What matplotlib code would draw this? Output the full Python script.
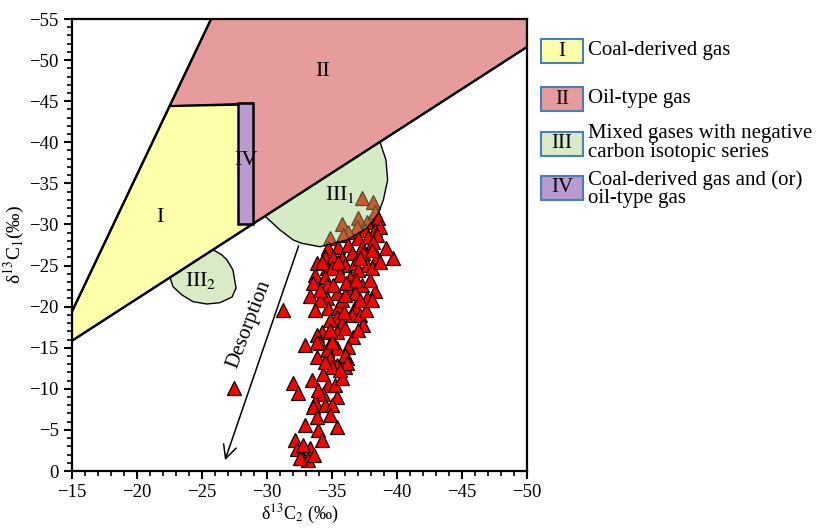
import numpy as np
import matplotlib
matplotlib.use('Agg')
import matplotlib.pyplot as plt
from matplotlib.patches import Polygon, Rectangle
from matplotlib.ticker import MultipleLocator

plt.rcParams['font.family'] = ['Liberation Serif', 'DejaVu Serif']
plt.rcParams['mathtext.fontset'] = 'stix'

# measured samples: d13C2 (x) and d13C1 (y), permil
d13C2 = [-37.33, -38.18, -35.79, -37.02, -37.67, -38.31, -38.56, -36.90, -36.21, -34.85,
         -35.87, -37.54, -38.31, -38.69, -37.02, -37.79, -38.44, -34.72, -35.48, -36.25,
         -38.18, -37.28, -39.72, -33.82, -34.46, -35.10, -35.75, -36.52, -37.41, -38.44,
         -38.05, -36.00, -36.77, -37.67, -35.36, -34.59, -34.98, -37.02, -35.62, -33.69,
         -34.46, -36.38, -37.28, -38.31, -33.56, -34.59, -36.38, -33.31, -35.36, -36.77,
         -37.67, -34.59, -34.72, -35.48, -36.77, -35.36, -36.52, -37.15, -34.85, -35.75,
         -37.41, -34.21, -35.36, -36.00, -36.64, -33.82, -34.98, -32.92, -34.08, -36.25,
         -35.36, -34.59, -33.82, -34.85, -36.13, -35.36, -36.00, -31.98, -32.41, -33.48,
         -34.28, -34.72, -35.23, -35.75, -34.33, -35.36, -33.69, -33.56, -34.46, -34.98,
         -33.82, -32.92, -33.95, -35.36, -32.15, -32.28, -33.31, -32.67, -33.18, -31.25,
         -27.46, -38.08, -38.69, -36.08, -35.77, -37.62, -35.92, -34.08, -39.15,
         -33.82, -34.98, -36.00, -36.13, -34.98, -34.23, -35.46, -37.15, -37.92, -36.85,
         -35.08, -34.08, -36.00, -37.15, -38.08, -33.69, -34.85, -37.00, -34.46, -35.62,
         -33.95, -34.85, -34.23, -32.77, -33.62, -32.54]
d13C1 = [-33.18, -32.77, -30.02, -30.75, -30.34, -31.55, -30.75, -29.73, -29.12, -28.32,
         -28.72, -29.33, -29.33, -29.73, -28.32, -28.51, -28.72, -27.10, -27.29, -27.50,
         -27.90, -27.29, -25.88, -25.27, -26.08, -26.08, -25.88, -26.49, -26.49, -26.08,
         -26.89, -25.07, -25.27, -25.07, -24.86, -24.67, -24.67, -24.46, -23.85, -23.85,
         -23.64, -23.45, -22.63, -21.90, -22.84, -22.63, -22.43, -21.33, -21.62, -21.62,
         -21.02, -21.02, -19.80, -19.80, -19.99, -18.78, -18.98, -18.98, -18.37, -17.97,
         -17.77, -16.95, -16.95, -17.36, -16.34, -16.55, -15.94, -15.33, -15.54, -15.13,
         -14.93, -14.72, -13.91, -13.71, -13.71, -12.90, -12.69, -10.67, -9.45, -11.07,
         -11.77, -10.46, -10.46, -11.28, -9.33, -9.04, -8.43, -7.82, -8.03, -8.03,
         -6.61, -5.60, -4.99, -5.39, -3.77, -2.68, -2.76, -1.55, -1.34, -19.59,
         -10.10, -24.70, -25.43, -22.88, -20.81, -19.59, -19.35, -20.81, -27.14,
         -15.73, -15.73, -14.12, -13.10, -12.69, -25.43, -25.43, -25.92, -23.24, -23.24,
         -22.63, -22.02, -21.42, -20.81, -20.81, -19.59, -17.16, -17.16, -13.26, -12.29,
         -9.86, -6.81, -3.77, -3.16, -1.95, -1.60]

# genetic zones (x, y) vertices
zone_I = [(-15, -15.85), (-15, -19.4), (-22.5, -44.4), (-28.9, -44.6), (-28.9, -30.05)]
zone_II = [(-25.7, -55), (-50, -55), (-50, -51.6), (-28.9, -30.05), (-28.9, -44.7), (-22.5, -44.4)]
zone_IV = [(-27.8, -30.0), (-27.8, -44.8), (-28.9, -44.8), (-28.9, -30.05)]
zone_III1 = [(-29.85, -31.0), (-31.0, -29.33), (-32.02, -28.11), (-32.67, -27.71), (-34.08, -27.29),
             (-36.13, -28.11), (-37.67, -29.53), (-38.56, -31.36), (-38.95, -32.98), (-39.28, -35.41),
             (-39.15, -37.84), (-38.69, -40.05)]
zone_III2 = [(-25.85, -26.93), (-26.54, -26.28), (-26.92, -25.68), (-27.38, -24.46), (-27.62, -22.27),
             (-27.31, -21.17), (-26.38, -20.48), (-25.38, -20.32), (-24.31, -20.60), (-23.46, -21.42),
             (-22.77, -22.43), (-22.54, -23.55)]

legend_tags = ['I', 'II', 'III', 'IV']
legend_labels = ['Coal-derived gas', 'Oil-type gas',
                 'Mixed gases with negative\ncarbon isotopic series',
                 'Coal-derived gas and (or)\noil-type gas']
c_yellow = '#FFFFAA'
c_red = '#E69C9C'
c_green = '#D8EBC6'
c_purple = '#B99BD2'
legend_colors = [c_yellow, c_red, c_green, c_purple]

fig = plt.figure(figsize=(8.16, 5.30), dpi=100)
ax = fig.add_axes([72/816, 59/530, 455/816, 452/530])

ax.add_patch(Polygon(zone_II, closed=True, fc=c_red, ec='k', lw=1.5, zorder=1))
ax.add_patch(Polygon(zone_I, closed=True, fc=c_yellow, ec='k', lw=1.5, zorder=1.5))
ax.add_patch(Polygon(zone_IV, closed=True, fc=c_purple, ec='k', lw=1.8, zorder=2))
ax.add_patch(Polygon(zone_III2, closed=True, fc=c_green, ec='k', lw=1.0, zorder=1.2))
# III1 is semi-transparent and sits over the samples
ax.add_patch(Polygon(zone_III1, closed=True, fc=(0.60, 0.82, 0.46, 0.42), ec='k', lw=1.0, zorder=4))

# boundary lines
ax.plot([-15, -50], [-15.85, -51.6], color='k', lw=1.6, zorder=5)
ax.plot([-15, -25.7], [-19.4, -55], color='k', lw=1.6, zorder=5)

ax.plot(d13C2, d13C1, linestyle='none', marker='^', ms=9.5, mfc='red', mec='black',
        mew=0.9, zorder=3)

ax.annotate('', xy=(-26.7, -1.0), xytext=(-32.5, -27.7),
            arrowprops=dict(arrowstyle='->', color='k', lw=1.1, mutation_scale=24), zorder=5)
ax.text(-28.6, -17.9, 'Desorption', rotation=69, fontsize=15, ha='center', va='center')

ax.text(-21.8, -30.9, 'I', fontsize=16, ha='center', va='center', zorder=6)
ax.text(-34.3, -48.6, 'II', fontsize=16, ha='center', va='center', zorder=6)
ax.text(-28.4, -37.8, 'IV', fontsize=16, ha='center', va='center', zorder=6)
ax.text(-35.6, -33.7, r'III$_1$', fontsize=16, ha='center', va='center', zorder=6)
ax.text(-24.9, -23.2, r'III$_2$', fontsize=16, ha='center', va='center', zorder=6)

ax.set_xlim(-15, -50)
ax.set_ylim(0, -55)
ax.xaxis.set_major_locator(MultipleLocator(5))
ax.xaxis.set_minor_locator(MultipleLocator(1))
ax.yaxis.set_major_locator(MultipleLocator(5))
ax.yaxis.set_minor_locator(MultipleLocator(1))
ax.tick_params(which='major', direction='out', length=6, width=1.5, labelsize=13.5)
ax.tick_params(which='minor', direction='out', length=3.5, width=1.2)
for s in ax.spines.values():
    s.set_linewidth(1.6)

ax.set_xlabel(r'δ$^{13}$C$_2$ (‰)', fontsize=13, labelpad=1)
ax.set_ylabel(r'δ$^{13}$C$_1$(‰)', fontsize=14, labelpad=2)

# legend drawn by hand on the right
box_tops = [39, 87, 132, 176]
text_y = [50, 98, 143, 189]
for tag, lab, col, top, ty in zip(legend_tags, legend_labels, legend_colors, box_tops, text_y):
    fig.add_artist(Rectangle((541/816, (530-top-24)/530), 42/816, 24/530,
                             transform=fig.transFigure, fc=col, ec='#4A7EBB', lw=1.5))
    fig.text(562/816, (530-top-12)/530, tag, fontsize=15, ha='center', va='center')
    fig.text(588/816, (530-ty)/530, lab, fontsize=15, ha='left', va='center', linespacing=0.95)

fig.savefig('out.png', dpi=100)
